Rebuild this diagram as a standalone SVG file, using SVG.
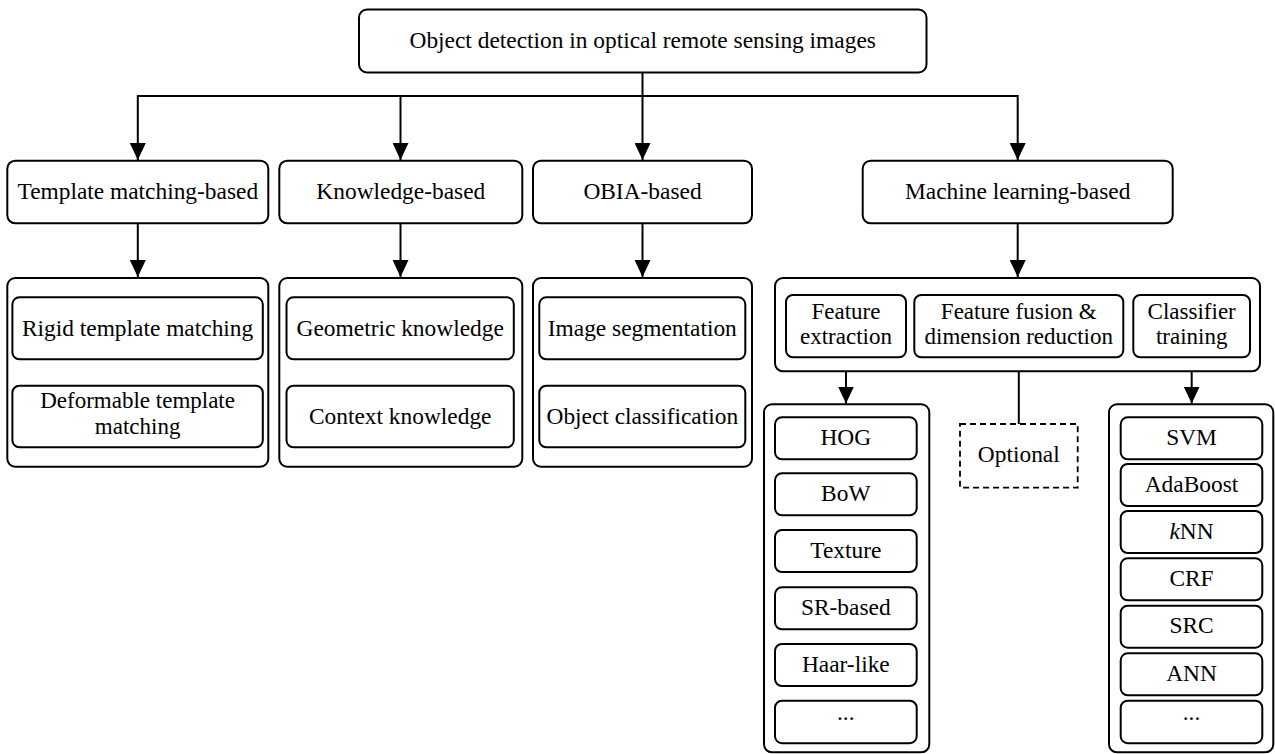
<svg xmlns="http://www.w3.org/2000/svg" width="1275" height="754" viewBox="0 0 1275 754">
<defs>
<style>
.b{fill:#fff;stroke:#000;stroke-width:2}
.d{fill:#fff;stroke:#000;stroke-width:1.8;stroke-dasharray:6,4}
.c{fill:none;stroke:#000;stroke-width:2}
text{font-family:"Liberation Serif","Times New Roman",serif;font-size:23.4px;fill:#000;text-anchor:middle}
text.t{font-size:23px}
</style>
<marker id="ah" viewBox="0 0 17 16" refX="17" refY="8" markerWidth="17" markerHeight="16" orient="auto" markerUnits="userSpaceOnUse">
<path d="M0,0 L17,8 L0,16 Z" fill="#000"/>
</marker>
</defs>
<rect width="1275" height="754" fill="#fff"/>

<g id="connectors">
<path class="c" d="M642.5,72.5 V96"/>
<path class="c" d="M643.5,96 H137.8 V160" marker-end="url(#ah)"/>
<path class="c" d="M400.5,96 V160" marker-end="url(#ah)"/>
<path class="c" d="M642.5,96 V160" marker-end="url(#ah)"/>
<path class="c" d="M641.5,96 H1017.7 V160" marker-end="url(#ah)"/>
<path class="c" d="M137.8,223.3 V277" marker-end="url(#ah)"/>
<path class="c" d="M400.5,223.3 V277" marker-end="url(#ah)"/>
<path class="c" d="M642.5,223.3 V277" marker-end="url(#ah)"/>
<path class="c" d="M1017.7,223.3 V277" marker-end="url(#ah)"/>
<path class="c" d="M846,357.3 V403.5" marker-end="url(#ah)"/>
<path class="c" d="M1018.8,357.3 V424"/>
<path class="c" d="M1191.7,357.3 V403.5" marker-end="url(#ah)"/>
</g>

<g id="root">
<rect class="b" x="359" y="9.5" width="567.5" height="63" rx="8"/>
<text x="642.7" y="47.5">Object detection in optical remote sensing images</text>
</g>

<g id="template-matching">
<rect class="b" x="7.3" y="160.7" width="261" height="62.6" rx="8"/>
<text x="137.8" y="198.5">Template matching-based</text>
</g>
<g id="knowledge">
<rect class="b" x="279.3" y="160.7" width="243" height="62.6" rx="8"/>
<text x="400.8" y="198.5">Knowledge-based</text>
</g>
<g id="obia">
<rect class="b" x="533" y="160.7" width="219" height="62.6" rx="8"/>
<text x="642.5" y="198.5">OBIA-based</text>
</g>
<g id="machine-learning">
<rect class="b" x="862.7" y="160.7" width="310" height="62.6" rx="8"/>
<text x="1017.7" y="198.5">Machine learning-based</text>
</g>

<g id="template-methods">
<rect class="b" x="7.3" y="278" width="261" height="188.7" rx="8"/>
<rect class="b" x="12.4" y="297.3" width="250.4" height="62" rx="7"/>
<text x="137.6" y="335.5">Rigid template matching</text>
<rect class="b" x="12.4" y="385.7" width="250.4" height="61.6" rx="7"/>
<text class="t" x="137.6" y="408">Deformable template</text>
<text class="t" x="137.6" y="433.5">matching</text>
</g>

<g id="knowledge-methods">
<rect class="b" x="279.3" y="278" width="243" height="188.7" rx="8"/>
<rect class="b" x="286.5" y="297.3" width="227.3" height="62" rx="7"/>
<text x="400.2" y="335.5">Geometric knowledge</text>
<rect class="b" x="286.5" y="385.7" width="227.3" height="61.6" rx="7"/>
<text x="400.2" y="423.5">Context knowledge</text>
</g>

<g id="obia-methods">
<rect class="b" x="533" y="278" width="219" height="188.7" rx="8"/>
<rect class="b" x="539.3" y="297.3" width="206" height="62" rx="7"/>
<text x="642.3" y="335.5">Image segmentation</text>
<rect class="b" x="539.3" y="385.7" width="206" height="61.6" rx="7"/>
<text x="642.3" y="423.5">Object classification</text>
</g>

<g id="ml-pipeline">
<rect class="b" x="775" y="278" width="485" height="93.3" rx="8"/>
</g>
<g id="feature-extraction">
<rect class="b" x="786" y="295" width="120" height="62.3" rx="7"/>
<text class="t" x="846" y="318.5">Feature</text>
<text class="t" x="846" y="344">extraction</text>
</g>
<g id="feature-fusion">
<rect class="b" x="914.3" y="295" width="209" height="62.3" rx="7"/>
<text class="t" x="1018.8" y="318.5">Feature fusion &amp;</text>
<text class="t" x="1018.8" y="344">dimension reduction</text>
</g>
<g id="classifier-training">
<rect class="b" x="1133.3" y="295" width="116.7" height="62.3" rx="7"/>
<text class="t" x="1191.7" y="318.5">Classifier</text>
<text class="t" x="1191.7" y="344">training</text>
</g>

<g id="optional">
<rect class="d" x="960" y="424" width="117.7" height="63.7"/>
<text x="1018.8" y="462">Optional</text>
</g>

<g id="features">
<rect class="b" x="764" y="404.3" width="165.3" height="348" rx="8"/>
<rect class="b" x="775" y="417.3" width="141.7" height="42" rx="7"/>
<text x="845.8" y="444.8">HOG</text>
<rect class="b" x="775" y="473.3" width="141.7" height="42" rx="7"/>
<text x="845.8" y="500.8">BoW</text>
<rect class="b" x="775" y="530" width="141.7" height="42" rx="7"/>
<text x="845.8" y="557.5">Texture</text>
<rect class="b" x="775" y="587.3" width="141.7" height="42" rx="7"/>
<text x="845.8" y="614.8">SR-based</text>
<rect class="b" x="775" y="644" width="141.7" height="42" rx="7"/>
<text x="845.8" y="671.5">Haar-like</text>
<rect class="b" x="775" y="700.7" width="141.7" height="42.5" rx="7"/>
<text x="845.8" y="719.5">...</text>
</g>

<g id="classifiers">
<rect class="b" x="1109" y="404.3" width="164.3" height="348" rx="8"/>
<rect class="b" x="1120.7" y="417.3" width="141.6" height="42" rx="7"/>
<text x="1191.5" y="444.8">SVM</text>
<rect class="b" x="1120.7" y="464" width="141.6" height="42" rx="7"/>
<text x="1191.5" y="491.5">AdaBoost</text>
<rect class="b" x="1120.7" y="511" width="141.6" height="42" rx="7"/>
<text x="1191.5" y="538.5"><tspan font-style="italic">k</tspan>NN</text>
<rect class="b" x="1120.7" y="558.3" width="141.6" height="42" rx="7"/>
<text x="1191.5" y="585.8">CRF</text>
<rect class="b" x="1120.7" y="605.7" width="141.6" height="42" rx="7"/>
<text x="1191.5" y="633.2">SRC</text>
<rect class="b" x="1120.7" y="653.3" width="141.6" height="42" rx="7"/>
<text x="1191.5" y="680.8">ANN</text>
<rect class="b" x="1120.7" y="700.7" width="141.6" height="42.5" rx="7"/>
<text x="1191.5" y="719.5">...</text>
</g>
</svg>
